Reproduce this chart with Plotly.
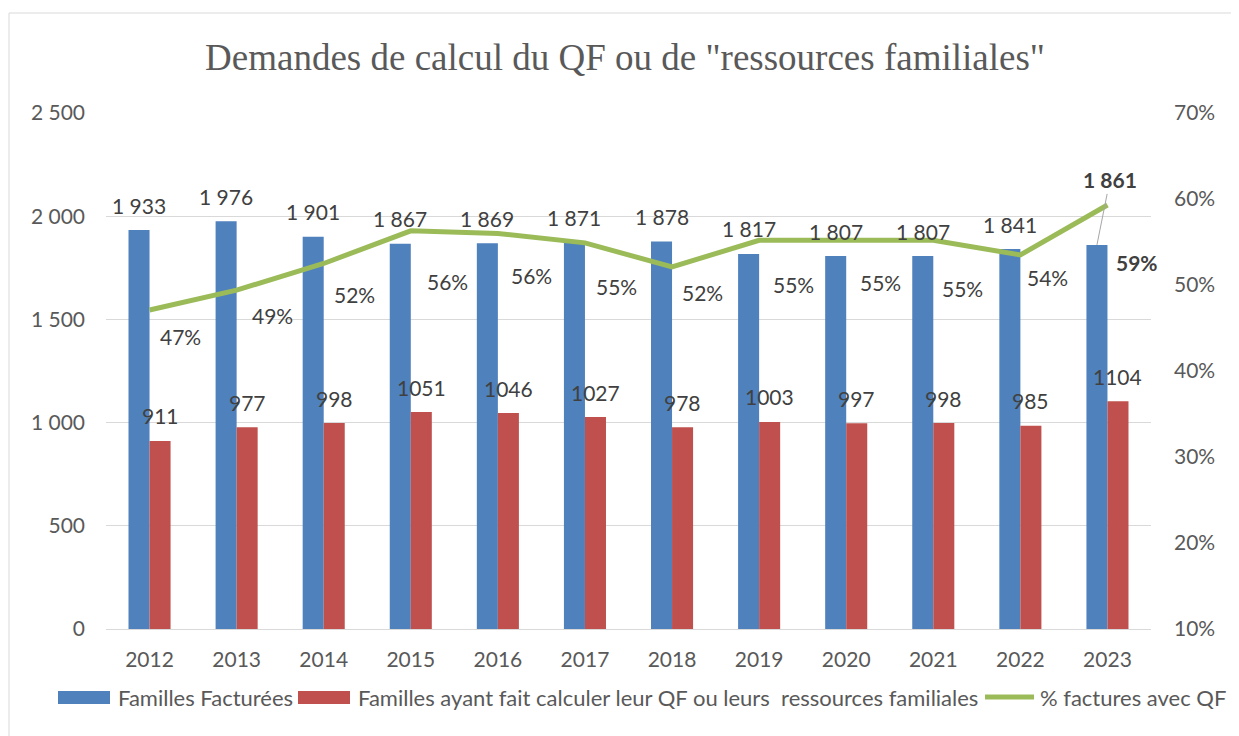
import plotly.graph_objects as go

# ---- data ----
years = [2012, 2013, 2014, 2015, 2016, 2017, 2018, 2019, 2020, 2021, 2022, 2023]
familles_facturees = [1933, 1976, 1901, 1867, 1869, 1871, 1878, 1817, 1807, 1807, 1841, 1861]
familles_qf = [911, 977, 998, 1051, 1046, 1027, 978, 1003, 997, 998, 985, 1104]
pct_qf = [47.1, 49.4, 52.5, 56.3, 56.0, 54.9, 52.1, 55.2, 55.2, 55.2, 53.5, 59.3]

name_fact = "Familles Facturées"
name_qf = "Familles ayant fait calculer leur QF ou leurs  ressources familiales"
name_pct = "% factures avec QF"

left_ticks = [0, 500, 1000, 1500, 2000, 2500]
right_ticks = [10, 20, 30, 40, 50, 60, 70]

# ---- styling ----
BLUE = "#4F81BD"
RED = "#C0504D"
GREEN = "#9BBB59"
GRID = "#D9D9D9"
TICK = "#595959"
LABEL = "#404040"
FONT = "Lato"
FS = 21
LEG_FS = 22

W, H = 1231, 728          # page adds an 8px body margin
ML, MT, PW, PH = 98, 105, 1045, 516

# pixel offsets of percentage labels relative to their points (style)
pct_dx = [31, 36, 31, 37, 34, 32, 30, 34, 34, 29, 27, 30]
pct_dy = [27, 25, 31, 51, 42, 44, 26, 44, 42, 48, 23, 57]


def px(X):  # screen x -> paper
    return (X - 8 - ML) / PW


def py(Y):  # screen y -> paper
    return (MT + PH - (Y - 8)) / PH


def fmt_thousands(v):
    return f"{v:,}".replace(",", " ")


fig = go.Figure()
fig.add_trace(go.Bar(x=years, y=familles_facturees, name=name_fact,
                     marker=dict(color=BLUE, line=dict(width=0)), yaxis="y"))
fig.add_trace(go.Bar(x=years, y=familles_qf, name=name_qf,
                     marker=dict(color=RED, line=dict(width=0)), yaxis="y"))
fig.add_trace(go.Scatter(x=years, y=pct_qf, name=name_pct, mode="lines",
                         line=dict(color=GREEN, width=5), yaxis="y2"))

bargap = 0.517
half_bar = PW / len(years) * (1 - bargap) / 4

ann = []
n = len(years)
lab_font = dict(family=FONT, size=FS, color=LABEL)
for i, (yr, v) in enumerate(zip(years, familles_facturees)):
    if i < n - 1:
        ann.append(dict(x=yr, y=v, xref="x", yref="y", text=fmt_thousands(v), showarrow=False,
                        xshift=-half_bar, yshift=25, font=lab_font))
    else:
        ann.append(dict(x=yr, y=v, xref="x", yref="y", text=f"<b>{fmt_thousands(v)}</b>",
                        showarrow=True, arrowhead=0, arrowwidth=1, arrowcolor="#A6A6A6",
                        ax=13, ay=-65, xshift=-half_bar, standoff=0, font=lab_font))
for yr, v in zip(years, familles_qf):
    ann.append(dict(x=yr, y=v, xref="x", yref="y", text=str(v), showarrow=False,
                    xshift=half_bar, yshift=25, font=lab_font))
for i, (yr, v) in enumerate(zip(years, pct_qf)):
    t = f"{v:.0f}%"
    if i == n - 1:
        t = f"<b>{t}</b>"
    ann.append(dict(x=yr, y=v, xref="x", yref="y2", text=t, showarrow=False,
                    xshift=pct_dx[i], yshift=-pct_dy[i], font=lab_font))

# ---- custom legend (wide swatches like the original) ----
leg_y = 697
leg_font = dict(family=FONT, size=LEG_FS, color=TICK)
shapes = [dict(type="rect", xref="paper", yref="paper", x0=px(9), x1=1.3, y0=-0.5, y1=py(13),
               line=dict(color=GRID, width=1), fillcolor="rgba(0,0,0,0)", layer="below")]
shapes.append(dict(type="rect", xref="paper", yref="paper", x0=px(58), x1=px(110),
                   y0=py(704), y1=py(691), line=dict(width=0), fillcolor=BLUE))
shapes.append(dict(type="rect", xref="paper", yref="paper", x0=px(298), x1=px(350),
                   y0=py(704), y1=py(691), line=dict(width=0), fillcolor=RED))
shapes.append(dict(type="line", xref="paper", yref="paper", x0=px(985), x1=px(1034),
                   y0=py(leg_y), y1=py(leg_y), line=dict(color=GREEN, width=5)))
for xl, name in [(116, name_fact), (356, name_qf), (1038, name_pct)]:
    ann.append(dict(x=px(xl), y=py(leg_y), xref="paper", yref="paper", text=name.replace("  ", "&nbsp; "),
                    showarrow=False, xanchor="left", yanchor="middle", font=leg_font))

fig.update_layout(
    width=W, height=H,
    margin=dict(l=ML, r=W - ML - PW, t=MT, b=H - MT - PH, autoexpand=False),
    paper_bgcolor="white", plot_bgcolor="white",
    barmode="group", bargap=bargap, bargroupgap=0,
    showlegend=False,
    font=dict(family=FONT, size=FS, color=TICK),
    title=dict(text='Demandes de calcul du QF ou de "ressources familiales"',
               font=dict(family="Liberation Serif", size=37, color=TICK),
               x=(625 - 8) / W, xanchor="center", xref="container", y=1 - (57 - 8) / H, yanchor="middle"),
    xaxis=dict(range=[years[0] - 0.5, years[-1] + 0.5], tickvals=years, ticktext=[str(y) for y in years],
               showline=True, linecolor=GRID, linewidth=1, showgrid=False, zeroline=False,
               ticks="", tickfont=dict(family=FONT, size=FS, color=TICK), ticklabelstandoff=12),
    yaxis=dict(range=[0, 2500], tickvals=left_ticks, ticktext=[fmt_thousands(v) for v in left_ticks],
               showgrid=True, gridcolor=GRID, gridwidth=1, zeroline=False, showline=False, ticks="",
               tickfont=dict(family=FONT, size=FS, color=TICK), ticklabelstandoff=20),
    yaxis2=dict(range=[10, 70], tickvals=right_ticks, ticktext=[f"{v}%" for v in right_ticks],
                overlaying="y", side="right",
                showgrid=False, zeroline=False, showline=False, ticks="",
                tickfont=dict(family=FONT, size=FS, color=TICK), ticklabelstandoff=22),
    annotations=ann,
    shapes=shapes,
)

fig.write_html("out.html")
